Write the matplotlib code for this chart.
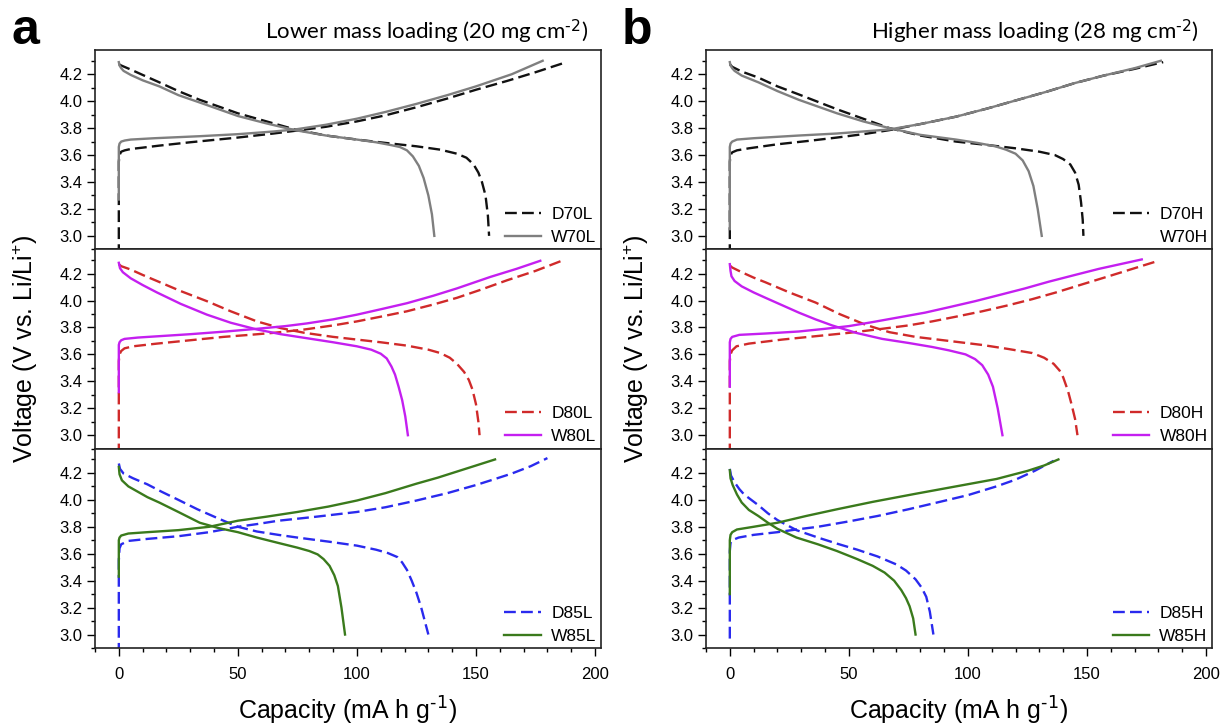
import matplotlib
matplotlib.use("Agg")
import matplotlib.pyplot as plt
from matplotlib.lines import Line2D
from matplotlib.ticker import MultipleLocator, FormatStrFormatter

# ---------------- data (capacity mA h g-1, voltage V) ----------------
# Lower mass loading (20 mg cm-2)
D70L_chg_x = [0, 0, 0.3, 1, 2.5, 5, 10, 17, 30, 50, 65, 74, 87, 100, 112, 125, 138, 150, 163, 175, 188]
D70L_chg_y = [2.85, 3.55, 3.60, 3.625, 3.635, 3.645, 3.655, 3.67, 3.695, 3.73, 3.76, 3.78, 3.81, 3.85, 3.895, 3.955, 4.02, 4.085, 4.15, 4.215, 4.29]
W70L_chg_x = [0, 0, 0.3, 1, 2.5, 5, 15, 34, 50, 65, 74, 87, 100, 112, 125, 138, 150, 165, 178]
W70L_chg_y = [3.27, 3.66, 3.685, 3.70, 3.708, 3.715, 3.725, 3.74, 3.755, 3.775, 3.79, 3.825, 3.87, 3.92, 3.98, 4.045, 4.11, 4.20, 4.30]
D70L_dis_x = [0, 1, 5, 10, 17, 25, 34, 42, 50, 62, 74, 87, 100, 112, 125, 135, 142, 146, 149, 151, 152.5, 154, 155, 155.5]
D70L_dis_y = [4.275, 4.265, 4.235, 4.195, 4.14, 4.075, 4.01, 3.96, 3.91, 3.85, 3.79, 3.745, 3.715, 3.69, 3.665, 3.64, 3.61, 3.58, 3.53, 3.47, 3.40, 3.30, 3.15, 3.0]
W70L_dis_x = [0, 0.3, 1, 2, 5, 10, 17, 25, 34, 42, 50, 62, 74, 87, 100, 108, 114, 118, 121, 123.5, 126, 128, 130, 131.5, 132.5]
W70L_dis_y = [4.29, 4.265, 4.245, 4.225, 4.195, 4.155, 4.11, 4.045, 3.99, 3.94, 3.89, 3.835, 3.785, 3.745, 3.715, 3.695, 3.675, 3.66, 3.635, 3.59, 3.52, 3.43, 3.30, 3.16, 3.0]

D80L_chg_x = [0, 0, 0.3, 1, 2.4, 6, 16, 30, 44, 55, 65, 78, 90, 100, 110, 121, 132, 142, 152, 163, 175, 186]
D80L_chg_y = [2.85, 3.55, 3.60, 3.625, 3.645, 3.66, 3.68, 3.705, 3.73, 3.745, 3.76, 3.785, 3.815, 3.845, 3.88, 3.92, 3.97, 4.02, 4.08, 4.15, 4.22, 4.295]
W80L_chg_x = [0, 0, 0.3, 1, 2.4, 8, 30, 45, 58, 70, 79, 90, 100, 110, 121, 132, 142, 156, 167, 177]
W80L_chg_y = [3.32, 3.67, 3.69, 3.705, 3.715, 3.725, 3.75, 3.77, 3.79, 3.81, 3.83, 3.86, 3.895, 3.935, 3.98, 4.035, 4.09, 4.175, 4.235, 4.295]
D80L_dis_x = [0, 1, 5, 10, 16, 26, 37, 47, 58, 68, 78, 90, 100, 110, 121, 130, 135, 139, 142, 145, 147, 148.5, 150, 151, 151.5]
D80L_dis_y = [4.27, 4.255, 4.23, 4.19, 4.145, 4.07, 3.995, 3.92, 3.845, 3.795, 3.76, 3.73, 3.71, 3.69, 3.665, 3.635, 3.61, 3.575, 3.53, 3.47, 3.41, 3.34, 3.23, 3.10, 3.0]
W80L_dis_x = [0, 0.5, 1.7, 5, 10, 16, 26, 37, 47, 58, 68, 79, 90, 100, 106, 110, 112.5, 114.5, 116, 117.5, 119, 120.3, 121.4]
W80L_dis_y = [4.28, 4.24, 4.21, 4.165, 4.115, 4.06, 3.975, 3.895, 3.835, 3.785, 3.75, 3.72, 3.69, 3.66, 3.635, 3.605, 3.57, 3.51, 3.45, 3.36, 3.26, 3.14, 3.0]

D85L_chg_x = [0, 0, 0.3, 1, 4, 12, 25, 38, 50, 58, 67, 83, 100, 112, 125, 138, 150, 158, 165, 173, 180]
D85L_chg_y = [2.85, 3.55, 3.64, 3.67, 3.695, 3.71, 3.73, 3.76, 3.80, 3.82, 3.845, 3.875, 3.91, 3.945, 3.995, 4.05, 4.11, 4.155, 4.195, 4.25, 4.31]
W85L_chg_x = [0, 0, 0.3, 1, 4, 12, 25, 38, 50, 62, 75, 88, 100, 112, 125, 134, 142, 150, 158]
W85L_chg_y = [3.43, 3.70, 3.72, 3.735, 3.75, 3.76, 3.775, 3.80, 3.845, 3.875, 3.91, 3.95, 3.995, 4.05, 4.12, 4.165, 4.21, 4.255, 4.30]
D85L_dis_x = [0, 0.5, 2, 6, 12, 18, 25, 33, 42, 50, 58, 67, 75, 88, 100, 108, 113, 117, 119, 121, 123, 125, 127, 128.5, 130]
D85L_dis_y = [4.27, 4.23, 4.195, 4.16, 4.115, 4.06, 4.0, 3.93, 3.86, 3.80, 3.765, 3.74, 3.72, 3.69, 3.66, 3.63, 3.605, 3.575, 3.535, 3.48, 3.40, 3.31, 3.20, 3.10, 3.0]
W85L_dis_x = [0, 0.3, 1.3, 4, 8, 12, 17, 25, 34, 42, 50, 58, 67, 75, 80, 83.5, 86, 88.5, 90.5, 92, 93.5, 95]
W85L_dis_y = [4.245, 4.19, 4.145, 4.10, 4.06, 4.02, 3.98, 3.91, 3.83, 3.79, 3.76, 3.72, 3.68, 3.645, 3.62, 3.595, 3.56, 3.51, 3.44, 3.36, 3.20, 3.0]

# Higher mass loading (28 mg cm-2)
D70H_chg_x = [0, 0, 0.3, 1, 3, 8, 20, 33, 45, 56, 67, 80, 95, 108, 120, 133, 145, 157, 170, 182]
D70H_chg_y = [2.85, 3.55, 3.60, 3.62, 3.635, 3.65, 3.68, 3.705, 3.73, 3.755, 3.785, 3.83, 3.885, 3.945, 4.005, 4.07, 4.135, 4.19, 4.24, 4.29]
W70H_chg_x = [0, 0, 0.3, 1, 3, 10, 29, 45, 56, 67, 80, 95, 108, 120, 133, 145, 157, 170, 181]
W70H_chg_y = [3.05, 3.66, 3.685, 3.70, 3.715, 3.725, 3.745, 3.76, 3.775, 3.79, 3.83, 3.885, 3.945, 4.005, 4.07, 4.135, 4.19, 4.245, 4.30]
D70H_dis_x = [0, 1, 5, 12, 20, 29, 37, 45, 56, 67, 80, 95, 108, 120, 130, 136.5, 140, 143, 145, 146.5, 147.5, 148.2, 148.5]
D70H_dis_y = [4.275, 4.255, 4.22, 4.175, 4.11, 4.05, 3.995, 3.94, 3.87, 3.80, 3.745, 3.70, 3.675, 3.65, 3.625, 3.60, 3.57, 3.53, 3.47, 3.38, 3.25, 3.12, 3.0]
W70H_dis_x = [0, 0.3, 1, 2, 5, 12, 20, 29, 37, 45, 56, 67, 80, 95, 104, 111.5, 116, 120, 123, 125.5, 127.5, 129.3, 131]
W70H_dis_y = [4.29, 4.265, 4.245, 4.225, 4.19, 4.14, 4.075, 4.01, 3.96, 3.91, 3.85, 3.80, 3.75, 3.715, 3.69, 3.665, 3.64, 3.61, 3.56, 3.48, 3.37, 3.20, 3.0]

D80H_chg_x = [0, 0, 0.3, 1, 2.8, 8, 22, 36, 50, 64, 75, 85, 95, 106, 117, 127, 137, 148, 160, 170, 180]
D80H_chg_y = [2.85, 3.55, 3.60, 3.63, 3.66, 3.68, 3.71, 3.735, 3.76, 3.79, 3.815, 3.845, 3.88, 3.92, 3.965, 4.01, 4.06, 4.12, 4.185, 4.24, 4.295]
W80H_chg_x = [0, 0, 0.3, 1, 4, 15, 29, 40, 50, 60, 71, 82, 92, 103, 113, 124, 134, 145, 155, 164, 173]
W80H_chg_y = [3.36, 3.69, 3.715, 3.73, 3.745, 3.755, 3.77, 3.79, 3.81, 3.84, 3.875, 3.91, 3.95, 3.995, 4.04, 4.09, 4.14, 4.19, 4.235, 4.27, 4.305]
D80H_dis_x = [0, 1, 5, 10, 15, 25, 36, 46, 57, 67, 78, 92, 106, 117, 127, 132, 136, 138.5, 140, 142, 143.5, 145, 146]
D80H_dis_y = [4.26, 4.245, 4.21, 4.17, 4.135, 4.06, 3.985, 3.90, 3.82, 3.765, 3.73, 3.70, 3.67, 3.64, 3.61, 3.575, 3.53, 3.48, 3.43, 3.33, 3.23, 3.12, 3.0]
W80H_dis_x = [0, 0.3, 0.7, 2, 5, 10, 15, 22, 29, 36, 43, 53, 64, 75, 85, 92, 99, 103, 106, 108.5, 110.5, 112.5, 114.5]
W80H_dis_y = [4.27, 4.22, 4.18, 4.145, 4.105, 4.06, 4.02, 3.965, 3.91, 3.86, 3.815, 3.76, 3.715, 3.685, 3.655, 3.63, 3.60, 3.565, 3.52, 3.45, 3.36, 3.20, 3.0]

D85H_chg_x = [0, 0, 0.3, 1, 3.7, 10, 20, 28, 37, 50, 62, 75, 87, 100, 112, 120, 128, 136]
D85H_chg_y = [2.97, 3.62, 3.68, 3.70, 3.72, 3.74, 3.76, 3.78, 3.80, 3.84, 3.88, 3.93, 3.98, 4.035, 4.10, 4.15, 4.215, 4.29]
W85H_chg_x = [0, 0, 0.3, 1, 3, 10, 20, 32, 45, 60, 78, 95, 112, 125, 132, 138]
W85H_chg_y = [3.30, 3.70, 3.74, 3.76, 3.78, 3.80, 3.83, 3.88, 3.93, 3.985, 4.045, 4.10, 4.155, 4.215, 4.255, 4.30]
D85H_dis_x = [0, 0.5, 2, 4, 6, 9, 12, 16, 20, 28, 37, 45, 53.5, 62, 70, 74, 78, 80.5, 82.5, 84, 85.5]
D85H_dis_y = [4.23, 4.18, 4.13, 4.08, 4.04, 4.00, 3.96, 3.90, 3.85, 3.775, 3.72, 3.675, 3.63, 3.58, 3.52, 3.475, 3.41, 3.35, 3.28, 3.17, 3.0]
W85H_dis_x = [0, 0.3, 1.2, 3, 5, 8, 12, 16, 20, 28, 37, 45, 53.5, 60, 65, 69, 72, 74, 75.5, 77, 78]
W85H_dis_y = [4.22, 4.16, 4.11, 4.04, 3.98, 3.925, 3.88, 3.83, 3.785, 3.72, 3.67, 3.62, 3.56, 3.51, 3.46, 3.40, 3.33, 3.27, 3.21, 3.12, 3.0]

x_ticks = [0, 50, 100, 150, 200]
y_ticks = [3.0, 3.2, 3.4, 3.6, 3.8, 4.0, 4.2]
titles = ["Lower mass loading (20 mg cm$^{\\text{-2}}$)",
          "Higher mass loading (28 mg cm$^{\\text{-2}}$)"]
x_label = "Capacity (mA h g$^{\\text{-1}}$)"
y_label = "Voltage (V vs. Li/Li$^{+}$)"
panel_letters = ["a", "b"]

# series: (label, charge x, charge y, discharge x, discharge y, colour, dashed)
columns = [
    [
        [("D70L", D70L_chg_x, D70L_chg_y, D70L_dis_x, D70L_dis_y, "#111111", True),
         ("W70L", W70L_chg_x, W70L_chg_y, W70L_dis_x, W70L_dis_y, "#7f7f7f", False)],
        [("D80L", D80L_chg_x, D80L_chg_y, D80L_dis_x, D80L_dis_y, "#d02a2a", True),
         ("W80L", W80L_chg_x, W80L_chg_y, W80L_dis_x, W80L_dis_y, "#c41ff0", False)],
        [("D85L", D85L_chg_x, D85L_chg_y, D85L_dis_x, D85L_dis_y, "#2a2aee", True),
         ("W85L", W85L_chg_x, W85L_chg_y, W85L_dis_x, W85L_dis_y, "#3a7a1c", False)],
    ],
    [
        [("D70H", D70H_chg_x, D70H_chg_y, D70H_dis_x, D70H_dis_y, "#111111", True),
         ("W70H", W70H_chg_x, W70H_chg_y, W70H_dis_x, W70H_dis_y, "#7f7f7f", False)],
        [("D80H", D80H_chg_x, D80H_chg_y, D80H_dis_x, D80H_dis_y, "#d02a2a", True),
         ("W80H", W80H_chg_x, W80H_chg_y, W80H_dis_x, W80H_dis_y, "#c41ff0", False)],
        [("D85H", D85H_chg_x, D85H_chg_y, D85H_dis_x, D85H_dis_y, "#2a2aee", True),
         ("W85H", W85H_chg_x, W85H_chg_y, W85H_dis_x, W85H_dis_y, "#3a7a1c", False)],
    ],
]

# ---------------- figure ----------------
plt.rcParams['font.family'] = ['Liberation Sans', 'DejaVu Sans']
plt.rcParams['mathtext.default'] = 'regular'
fig = plt.figure(figsize=(12.21, 7.27), dpi=100)

col_left = [95 / 1221, 706 / 1221]
col_w = 506 / 1221
top = 1 - 50 / 727
bottom = 1 - 648 / 727
ph = (top - bottom) / 3
DASH = (0, (5, 2.2))
LW = 1.7

for c, col in enumerate(columns):
    for r, series in enumerate(col):
        ax = fig.add_axes([col_left[c], top - (r + 1) * ph, col_w, ph])
        ax.set_xlim(-10, 202.5)
        ax.set_ylim(2.9, 4.38)
        handles = []
        for (lab, cx, cy, dx, dy, colr, dashed) in series:
            ls = DASH if dashed else '-'
            ax.plot(cx, cy, color=colr, lw=LW, ls=ls, solid_joinstyle='round')
            ax.plot(dx, dy, color=colr, lw=LW, ls=ls, solid_joinstyle='round')
            if lab == "W70H":
                handles.append(Line2D([], [], color='none', lw=LW, label=lab))
            else:
                handles.append(Line2D([], [], color=colr, lw=LW, ls=ls, label=lab))
        ax.legend(handles=handles, loc='lower right', frameon=False, fontsize=12.5,
                  handlelength=2.1, handletextpad=0.6, borderaxespad=0.1,
                  borderpad=0.15, labelspacing=0.45)
        ax.set_yticks(y_ticks)
        ax.yaxis.set_minor_locator(MultipleLocator(0.1))
        ax.set_xticks(x_ticks)
        ax.xaxis.set_minor_locator(MultipleLocator(10))
        ax.tick_params(which='both', direction='out', labelsize=12, width=1.0)
        ax.tick_params(which='major', length=5.5)
        ax.tick_params(which='minor', length=3)
        ax.yaxis.set_major_formatter(FormatStrFormatter('%.1f'))
        if r < 2:
            ax.tick_params(axis='x', labelbottom=False)
        else:
            ax.tick_params(axis='x', pad=8)
        for s in ax.spines.values():
            s.set_linewidth(1.2)
            s.set_color('#222222')

    # column-level texts
    xc = col_left[c]
    fig.text(xc + col_w / 2, 1 - 711 / 727, x_label,
             ha='center', va='center', fontsize=18)
    fig.text(xc - 70 / 1221, (top + bottom) / 2, y_label,
             rotation=90, ha='center', va='center', fontsize=18)
    fig.text(xc + col_w - 13 / 1221, 1 - 32 / 727, titles[c], ha='right', va='center',
             fontsize=16, family=['Lato', 'DejaVu Sans'])
    fig.text(xc - 84 / 1221, 1 - 44 / 727, panel_letters[c], ha='left', va='baseline',
             fontsize=36, fontweight='bold')

fig.savefig("out.png", dpi=100)
